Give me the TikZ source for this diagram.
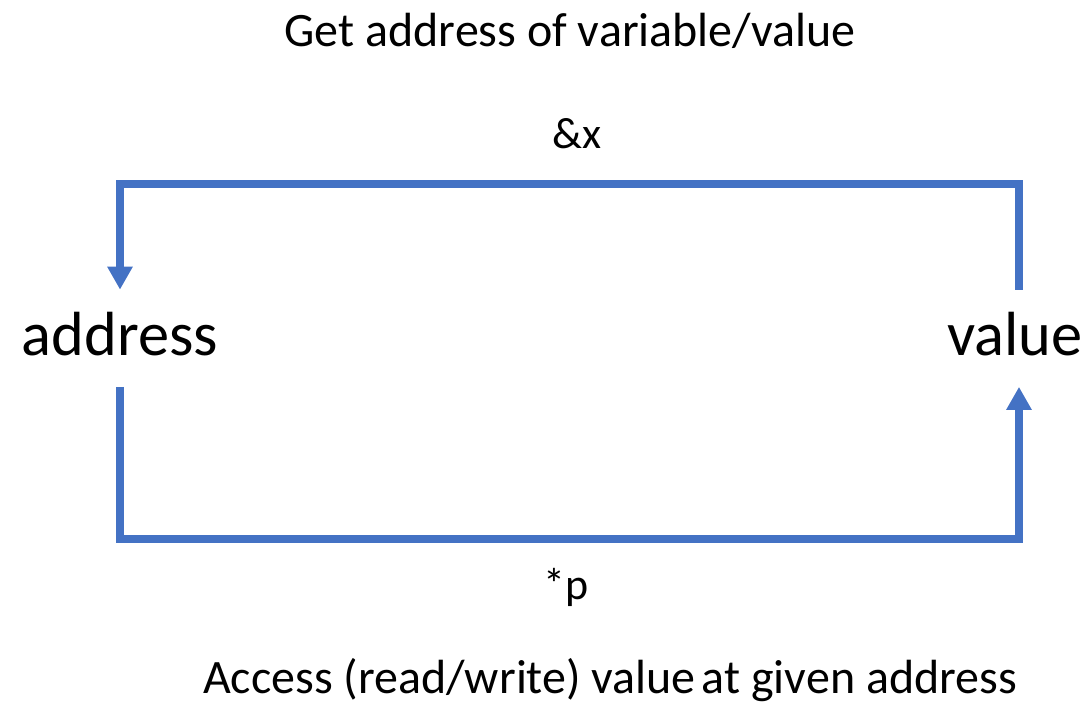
\documentclass[tikz,border=0pt]{standalone}
\usepackage{fontspec}
\setmainfont{Carlito}
\usetikzlibrary{arrows.meta, positioning}
\definecolor{LinkBlue}{HTML}{4472C4}

\begin{document}
\begin{tikzpicture}[
    word/.style={
        font=\fontsize{35.5}{40}\selectfont, anchor=base, inner ysep=0pt,
        text height=1.3cm, text depth=0.63cm
    },
    caption/.style={font=\fontsize{27.3}{32}\selectfont, anchor=base},
    op/.style={font=\fontsize{25}{30}\selectfont, anchor=base},
    link/.style={
        draw=LinkBlue, line width=4.5pt, line join=miter,
        -{Triangle[length=0.46cm, width=0.48cm]}
    }
]
\useasboundingbox (0,0) rectangle (21.84,-14.12);

% ===================================================================
% ENDPOINTS
% ===================================================================
\node[word] (addr) at (2.4,-7.1) {address};
\node[word] (val) at (20.3,-7.1) {value};

% ===================================================================
% LABELS
% ===================================================================
\node[caption] (getlbl) at (11.4,-0.94) {Get address of variable/value};
\node[op] (amp) at (11.54,-2.98) {\&x};
\node[op] (deref) at (11.32,-11.98) {*p};
\node[caption] (acclbl) at (12.2,-13.86)
    {Access (read/write) value\hspace{-0.1em} at given address};

% ===================================================================
% ARROWS
% ===================================================================
\draw[link] ([xshift=0.08cm]val.north) -- ++(0,2.11) -| (addr.north);
\draw[link] (addr.south) -- ++(0,-3.04) -| ([xshift=0.08cm]val.south);

\end{tikzpicture}
\end{document}
